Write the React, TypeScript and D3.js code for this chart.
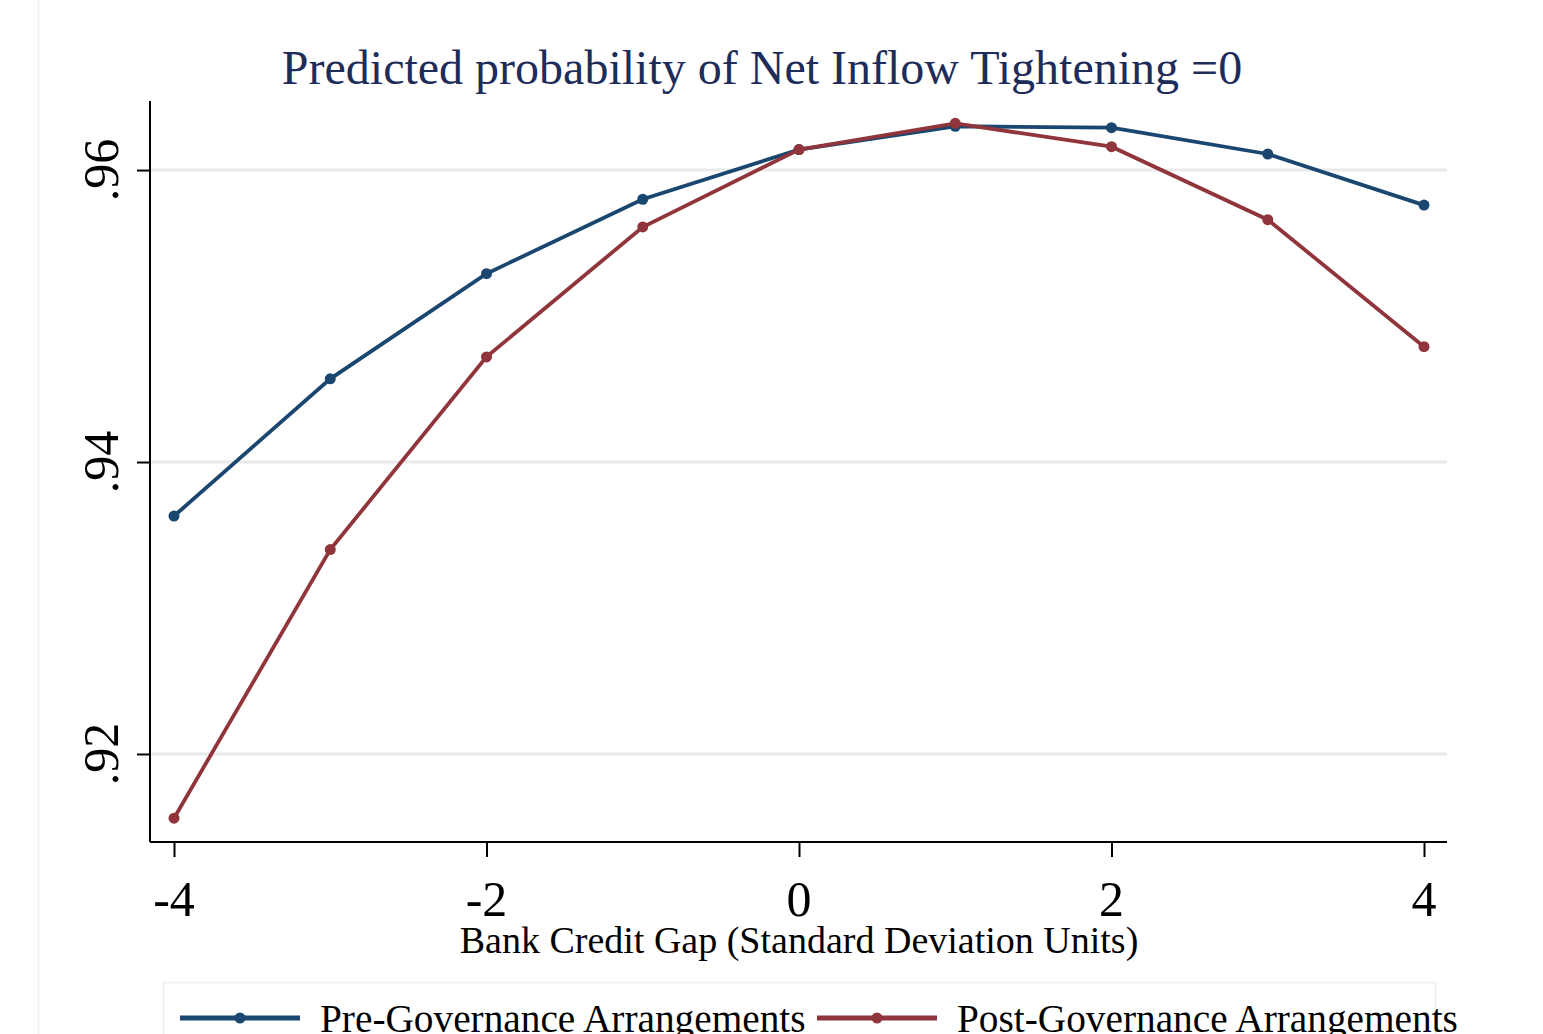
import React, { useEffect, useRef } from "react";
import * as d3 from "d3";

const gapUnits = [-4, -3, -2, -1, 0, 1, 2, 3, 4];
const preGovernance = [0.9363, 0.9457, 0.9529, 0.958, 0.9614, 0.963, 0.9629, 0.9611, 0.9576];
const postGovernance = [0.9156, 0.934, 0.9472, 0.9561, 0.9614, 0.9632, 0.9616, 0.9566, 0.9479];
const yTicks = [0.92, 0.94, 0.96];
const xTicks = [-4, -2, 0, 2, 4];
const seriesNames = ["Pre-Governance Arrangements", "Post-Governance Arrangements"];
const seriesColors = ["#1a476f", "#90353b"];

const App = () => {
  const ref = useRef<SVGSVGElement>(null);
  useEffect(() => {
    const width = 1543;
    const height = 1034;
    const svg = d3.select(ref.current);
    svg.selectAll("*").remove();
    svg.attr("width", width).attr("height", height);
    const font = "'Liberation Serif', 'DejaVu Serif', serif";

    svg.append("rect").attr("width", width).attr("height", height).attr("fill", "white");
    // faint graph region edge
    svg.append("line").attr("x1", 38.5).attr("x2", 38.5).attr("y1", 0).attr("y2", height)
      .attr("stroke", "#f0f0f0").attr("stroke-width", 1.5);

    const left = 150, right = 1447, top = 101, bottom = 842;
    const x = d3.scaleLinear().domain([-4, 4]).range([174, 1424]);
    const y = d3.scaleLinear().domain([0.91397, 0.96473]).range([bottom, top]);

    // gridlines
    svg.append("g").selectAll("line").data(yTicks).enter().append("line")
      .attr("x1", left).attr("x2", right)
      .attr("y1", (d) => y(d)).attr("y2", (d) => y(d))
      .attr("stroke", "#eaeaea").attr("stroke-width", 3);

    // axes
    const yAxis = svg.append("g").attr("transform", `translate(${left},0)`)
      .call(d3.axisLeft(y).tickValues(yTicks).tickSize(13).tickFormat(() => ""));
    yAxis.select(".domain").attr("d", `M0,${top}V${bottom}`).attr("stroke-width", 2);
    yAxis.selectAll(".tick line").attr("stroke-width", 2);
    const xAxis = svg.append("g").attr("transform", `translate(0,${bottom})`)
      .call(d3.axisBottom(x).tickValues(xTicks).tickSize(15).tickFormat(() => ""));
    xAxis.select(".domain").attr("d", `M${left},0H${right}`).attr("stroke-width", 2);
    xAxis.selectAll(".tick line").attr("stroke-width", 2);

    // tick labels
    svg.append("g").selectAll("text").data(yTicks).enter().append("text")
      .attr("transform", (d) => `translate(118,${y(d)}) rotate(-90)`)
      .attr("text-anchor", "middle").attr("font-family", font).attr("font-size", 50)
      .attr("fill", "black")
      .text((d) => d3.format(".2f")(d).replace(/^0/, ""));
    svg.append("g").selectAll("text").data(xTicks).enter().append("text")
      .attr("x", (d) => x(d)).attr("y", 916)
      .attr("text-anchor", "middle").attr("font-family", font).attr("font-size", 50)
      .attr("fill", "black")
      .text((d) => String(d));

    // titles
    svg.append("text").attr("x", 762).attr("y", 84).attr("text-anchor", "middle")
      .attr("font-family", font).attr("font-size", 48).attr("fill", "#1e2c5a")
      .text("Predicted probability of Net Inflow Tightening =0");
    svg.append("text").attr("x", 799).attr("y", 953).attr("text-anchor", "middle")
      .attr("font-family", font).attr("font-size", 38).attr("fill", "black")
      .text("Bank Credit Gap (Standard Deviation Units)");

    // series
    const line = d3.line<number>().x((d, i) => x(gapUnits[i])).y((d) => y(d));
    [preGovernance, postGovernance].forEach((vals, k) => {
      svg.append("path").datum(vals).attr("d", line).attr("fill", "none")
        .attr("stroke", seriesColors[k]).attr("stroke-width", 3.8);
      svg.append("g").selectAll("circle").data(vals).enter().append("circle")
        .attr("cx", (d, i) => x(gapUnits[i])).attr("cy", (d) => y(d)).attr("r", 5.5)
        .attr("fill", seriesColors[k]);
    });

    // legend
    svg.append("rect").attr("x", 163.5).attr("y", 982.5).attr("width", 1272).attr("height", 80)
      .attr("fill", "white").attr("stroke", "#eef2f5").attr("stroke-width", 2);
    const legendX = [180, 817];
    seriesNames.forEach((name, k) => {
      const g = svg.append("g").attr("transform", `translate(${legendX[k]},1018)`);
      g.append("line").attr("x1", 0).attr("x2", 120).attr("stroke", seriesColors[k]).attr("stroke-width", 5);
      g.append("circle").attr("cx", 60).attr("r", 5.5).attr("fill", seriesColors[k]);
      g.append("text").attr("x", 140).attr("y", 14).attr("font-family", font).attr("font-size", 39.3)
        .attr("fill", "black").text(name);
    });
  }, []);

  return (
    <div style={{ position: "absolute", left: 0, top: 0 }}>
      <svg ref={ref} style={{ display: "block" }}></svg>
    </div>
  );
};

export default App;
